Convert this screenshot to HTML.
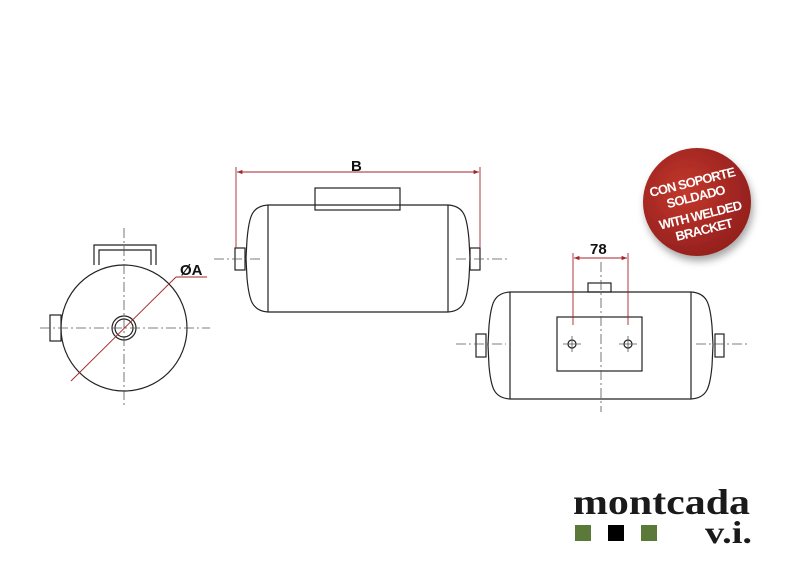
<!DOCTYPE html>
<html><head><meta charset="utf-8"><style>
html,body{margin:0;padding:0;background:#fff;width:800px;height:565px;overflow:hidden}
</style></head><body>
<svg width="800" height="565" viewBox="0 0 800 565" xmlns="http://www.w3.org/2000/svg">
<defs>
<marker id="ar" viewBox="0 0 10 10" refX="10" refY="5" markerWidth="8" markerHeight="6" orient="auto-start-reverse"><path d="M0,1 L10,5 L0,9 z" fill="#a3232b"/></marker>
<filter id="sh" x="-30%" y="-30%" width="160%" height="160%"><feDropShadow dx="2" dy="5" stdDeviation="4" flood-color="#000" flood-opacity="0.35"/></filter>
<radialGradient id="rg" cx="0.4" cy="0.4" r="0.7"><stop offset="0" stop-color="#c4382c"/><stop offset="1" stop-color="#8e1d1c"/></radialGradient>
</defs>
<g fill="none" stroke="#222" stroke-width="1.2">
<path d="M94,265 V245 H156 V265 M99,265 V250 H151 V265"/>
<circle cx="124" cy="328" r="63" fill="#fff"/>
<rect x="50" y="315" width="11" height="26"/>
<circle cx="124" cy="328" r="12"/>
<circle cx="124" cy="328" r="9"/>
<rect x="315" y="188" width="85" height="22" fill="#fff"/>
<path d="M268,205 H448 M268,312 H448 M268,205 V312 M448,205 V312"/>
<path d="M268,205 C252,206 249,216 247,240 L246,258 L247,278 C249,300 252,311 268,312"/>
<path d="M448,205 C464,206 467,216 469,240 L470,258 L469,278 C467,300 464,311 448,312"/>
<rect x="235" y="248" width="10" height="22"/>
<rect x="470" y="248" width="10" height="22"/>
<rect x="588" y="283" width="23" height="9"/>
<path d="M510,292 H691 M510,399 H691 M510,292 V399 M691,292 V399"/>
<path d="M510,292 C494,293 491,303 489,326 L488,345 L489,366 C491,388 494,398 510,399"/>
<path d="M691,292 C707,293 710,303 712,326 L713,345 L712,366 C710,388 707,398 691,399"/>
<rect x="476" y="334" width="10" height="23"/>
<rect x="715" y="334" width="9" height="23"/>
<rect x="557" y="317" width="85" height="54"/>
<circle cx="572" cy="344" r="4"/>
<circle cx="628" cy="344" r="4"/>
</g>
<g stroke="#555" stroke-width="0.8" stroke-dasharray="10,3,2,3" fill="none">
<line x1="124" y1="228" x2="124" y2="408"/>
<line x1="40" y1="328" x2="210" y2="328"/>
<line x1="214" y1="259" x2="262" y2="259"/>
<line x1="456" y1="259" x2="510" y2="259"/>
<line x1="456" y1="344" x2="506" y2="344"/>
<line x1="696" y1="344" x2="748" y2="344"/>
<line x1="601" y1="262" x2="601" y2="412"/>
<line x1="563" y1="344" x2="581" y2="344" stroke-dasharray="none"/>
<line x1="572" y1="336" x2="572" y2="352" stroke-dasharray="none"/>
<line x1="619" y1="344" x2="637" y2="344" stroke-dasharray="none"/>
<line x1="628" y1="336" x2="628" y2="352" stroke-dasharray="none"/>
</g>
<g stroke="#a3232b" stroke-width="0.9" fill="none">
<line x1="71" y1="381" x2="176" y2="277"/>
<line x1="176" y1="277" x2="207" y2="277"/>
<line x1="236" y1="167" x2="236" y2="248"/>
<line x1="480" y1="167" x2="480" y2="248"/>
<line x1="237" y1="172" x2="479" y2="172" marker-start="url(#ar)" marker-end="url(#ar)"/>
<line x1="573" y1="253" x2="573" y2="325"/>
<line x1="628" y1="253" x2="628" y2="325"/>
<line x1="574" y1="258" x2="627" y2="258" marker-start="url(#ar)" marker-end="url(#ar)"/>
</g>
<g font-family="Liberation Sans, sans-serif" font-weight="bold" fill="#111">
<text x="180" y="275" font-size="15">ØA</text>
<text x="351" y="171" font-size="15">B</text>
<text x="590" y="254" font-size="15">78</text>
</g>
<circle cx="697" cy="202" r="54" fill="url(#rg)" filter="url(#sh)"/>
<g transform="rotate(-14 697 202)" fill="#fff" font-family="Liberation Sans, sans-serif" font-weight="bold" font-size="13" text-anchor="middle" letter-spacing="-0.8">
<text x="697" y="186">CON SOPORTE</text>
<text x="697" y="201">SOLDADO</text>
<text x="697" y="220">WITH WELDED</text>
<text x="697" y="235">BRACKET</text>
</g>
<text x="573" y="514" textLength="177" lengthAdjust="spacingAndGlyphs" font-family="Liberation Serif, serif" font-weight="bold" font-size="36" fill="#1a1a1a">montcada</text>
<rect x="575" y="525" width="16" height="16" fill="#5b7a3a"/>
<rect x="608" y="525" width="16" height="16" fill="#000"/>
<rect x="641" y="525" width="16" height="16" fill="#5b7a3a"/>
<text x="705" y="543" textLength="47" lengthAdjust="spacingAndGlyphs" font-family="Liberation Serif, serif" font-weight="bold" font-size="32" fill="#1a1a1a">v.i.</text>
</svg>
</body></html>
